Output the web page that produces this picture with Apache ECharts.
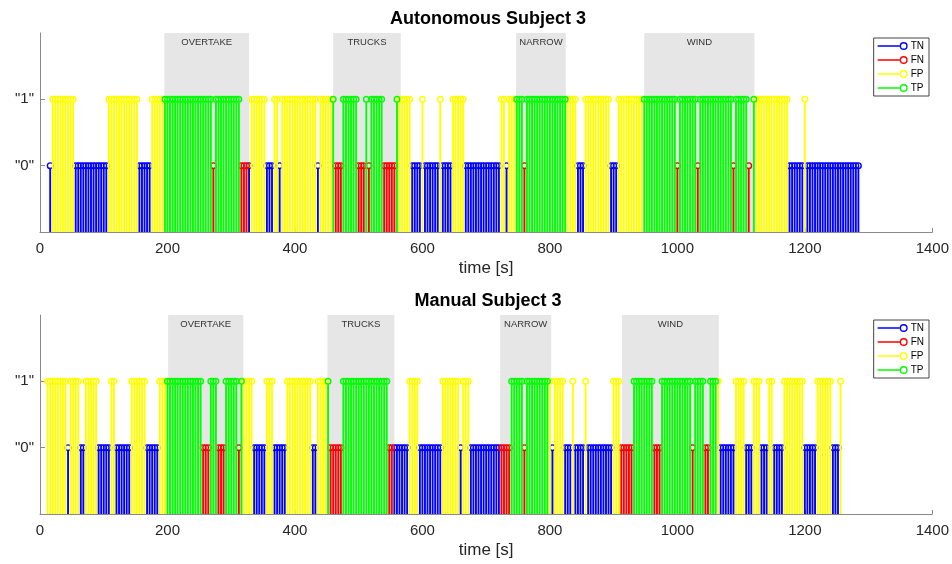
<!DOCTYPE html>
<html><head><meta charset="utf-8">
<script src="https://cdn.jsdelivr.net/npm/echarts@6/dist/echarts.min.js"></script>
<style>html,body{margin:0;padding:0;background:#fff}#c{width:952px;height:564px}</style>
</head><body><div id="c"></div>
<script>
// ---- data ----
const classNames = ['TN', 'FN', 'FP', 'TP'];
const classCodes = ['N', 'F', 'P', 'T'];
const classLevels = [0, 0, 1, 1];
const classColors = ['#0000ff', '#ff0000', '#ffff00', '#00ff00'];
const sampleStep = 4; // seconds per sample slot ('.' = no sample)

// one character per sample slot, 25 slots (100 s) per row
const autoLabelRows = [
  '....N PPPPPPPPP NNNNNNNNNNN',
  'NN PPPPPPPPPPPP NNNNN PPPPP T',
  'TTTTTTTTTTTTTTTTTT F TTTTTT',
  'TTTT FFF N PPPPPP NNN PP N PPPPP',
  'PPPPPPPPP N PPPPP T FFF TTTTTT',
  'FFF T F TTTTT FFFFF T PPPPP NNNN',
  'P NNNNNN P NNNN PPPPP NNNNNNNN',
  'NNNNNN PP N PPP TTT F TTTTTTTTT',
  'TTTTTTT PPPP NNN PPPPPPPPPP N',
  'NN PPPPPPPPPP TTTTTTTTTTTTT',
  'F TTTTTTT F TTTTTTTTTTTTT F TT',
  'TTT F . T PPPPPPPPPPPPP NNNNNN',
  'P NNNNNNNNNNNNNNNNNNNNN'
];
const manualLabelRows = [
  '... PPPPPPPP N PPPP NN PPPPP NN',
  'NNN PP NNNNNN PPPPPP NNNNN PPP',
  'TTTTTTTTTTTTTT FFF TTT FFF TT',
  'TTT F T PPPP NNNNN PPP NNNNN PPP',
  'PPPPPPP NN PPPP T FFFFF TTTTTT',
  'TTTTTTTTTTTT FF NNNNNN PPPP N',
  'NNNNNNNN PPPPPPP N PPP NNNNNN',
  'NNNNNN FFFF TTTTT F TTTTTTTTT',
  'P N PPPP NNN P NNNN P NNNNNNNNNN',
  'PPP FFFFF TTTTTTTT FFF TTTTTT',
  'TTTTTT F TTTT FF TTT P NNNNNN PP',
  'PP NNN PPP NNN PP NNNN PPPPPPPP',
  'NNNNN PPPPPP NNN P'
];

const regionNames = ['OVERTAKE', 'TRUCKS', 'NARROW', 'WIND'];
const autoRegionStart = [195, 460, 747, 948];
const autoRegionEnd = [328, 566, 825, 1121];
const manualRegionStart = [201, 451, 722, 913];
const manualRegionEnd = [319, 556, 802, 1065];

const titles = ['Autonomous Subject 3', 'Manual Subject 3'];
const xAxisName = 'time [s]';
const yTickValues = [0, 1];
const yTickLabels = ['"0"', '"1"'];

// ---- build ----
function rowsToString(rows) {
  return rows.map(r => r.replace(/ /g, '')).join('');
}
const plotLabels = [rowsToString(autoLabelRows), rowsToString(manualLabelRows)];
const plotRegions = [[autoRegionStart, autoRegionEnd], [manualRegionStart, manualRegionEnd]];

function seriesData(labels, code, level) {
  const out = [];
  for (let i = 0; i < labels.length; i++) {
    if (labels[i] === code) out.push([i * sampleStep, level]);
  }
  return out;
}

function stemRender(color) {
  return function (params, api) {
    const t = api.value(0), v = api.value(1);
    const base = api.coord([t, -1]);
    const top = api.coord([t, v]);
    const r = 2.8;
    return {
      type: 'group',
      children: [
        { type: 'line', shape: { x1: base[0], y1: base[1], x2: top[0], y2: top[1] + r },
          style: { stroke: color, lineWidth: 1.9 } },
        { type: 'circle', shape: { cx: top[0], cy: top[1], r: r },
          style: { fill: 'none', stroke: color, lineWidth: 1.4 } }
      ]
    };
  };
}

const gridTops = [33, 315];
const FONT = '"Liberation Sans", Arial, Helvetica, sans-serif';
const legendIcon = 'path://M0,4.2L22,4.2L22,5.8L0,5.8Z M30,5A4,4 0 1 0 22,5A4,4 0 1 0 30,5Z M28.6,5A2.6,2.6 0 1 1 23.4,5A2.6,2.6 0 1 1 28.6,5Z';

const option = {
  animation: false,
  backgroundColor: '#fff',
  textStyle: { fontFamily: FONT },
  title: titles.map((t, k) => ({
    text: t, left: 488, textAlign: 'center', top: gridTops[k] - 23, padding: 0,
    textStyle: { fontSize: 18, fontWeight: 'bold', color: '#000', fontFamily: FONT }
  })),
  legend: [0, 1].map(k => ({
    data: classNames, orient: 'vertical', right: 23, top: gridTops[k] + 5,
    backgroundColor: '#fff', borderColor: '#444', borderWidth: 1, borderRadius: 0,
    padding: [3, 5, 3, 4], itemGap: 4, itemWidth: 30, itemHeight: 8,
    icon: legendIcon,
    textStyle: { fontSize: 10, color: '#000', fontFamily: FONT, padding: [0, 0, 0, -2] },
    selectedMode: false
  })),
  grid: gridTops.map(t => ({ left: 40, right: 15, top: t, height: 199 })),
  xAxis: [0, 1].map(k => ({
    type: 'value', gridIndex: k, min: 0, max: 1400, interval: 200,
    name: xAxisName, nameLocation: 'middle', nameGap: 28,
    nameTextStyle: { fontSize: 17, color: '#262626', fontFamily: FONT },
    axisLine: { show: true, onZero: false, lineStyle: { color: '#8a8a8a', width: 1 } },
    axisTick: { show: true, inside: true, length: 4, lineStyle: { color: '#8a8a8a' } },
    axisLabel: { fontSize: 15, color: '#262626', margin: 9, fontFamily: FONT, formatter: v => String(v) },
    splitLine: { show: false }
  })),
  yAxis: [0, 1].map(k => ({
    type: 'value', gridIndex: k, min: -1, max: 2, interval: 1,
    axisLine: { show: true, onZero: false, lineStyle: { color: '#8a8a8a', width: 1 } },
    axisTick: { show: true, inside: true, length: 5, customValues: yTickValues, lineStyle: { color: '#8a8a8a' } },
    axisLabel: {
      fontSize: 15, color: '#262626', margin: 6, fontFamily: FONT, customValues: yTickValues,
      formatter: v => { const i = yTickValues.indexOf(v); return i >= 0 ? yTickLabels[i] : ''; }
    },
    splitLine: { show: false }
  })),
  series: []
};

[0, 1].forEach(k => {
  const [rs, re] = plotRegions[k];
  option.series.push({
    type: 'line', xAxisIndex: k, yAxisIndex: k, data: [], silent: true, z: 0,
    markArea: {
      silent: true,
      itemStyle: { color: '#e6e6e6', opacity: 1 },
      label: { show: true, position: 'insideTop', distance: 4, fontSize: 9.5, color: '#333', fontFamily: FONT },
      data: regionNames.map((n, i) => [{ name: n, xAxis: rs[i] }, { xAxis: re[i] }])
    }
  });
  classNames.forEach((name, c) => {
    option.series.push({
      type: 'custom', name: name, xAxisIndex: k, yAxisIndex: k, z: 3,
      itemStyle: { color: classColors[c] },
      encode: { x: 0, y: 1 },
      renderItem: stemRender(classColors[c]),
      data: seriesData(plotLabels[k], classCodes[c], classLevels[c])
    });
  });
});

const chart = echarts.init(document.getElementById('c'), null, { renderer: 'canvas' });
chart.setOption(option);
</script>
</body></html>
